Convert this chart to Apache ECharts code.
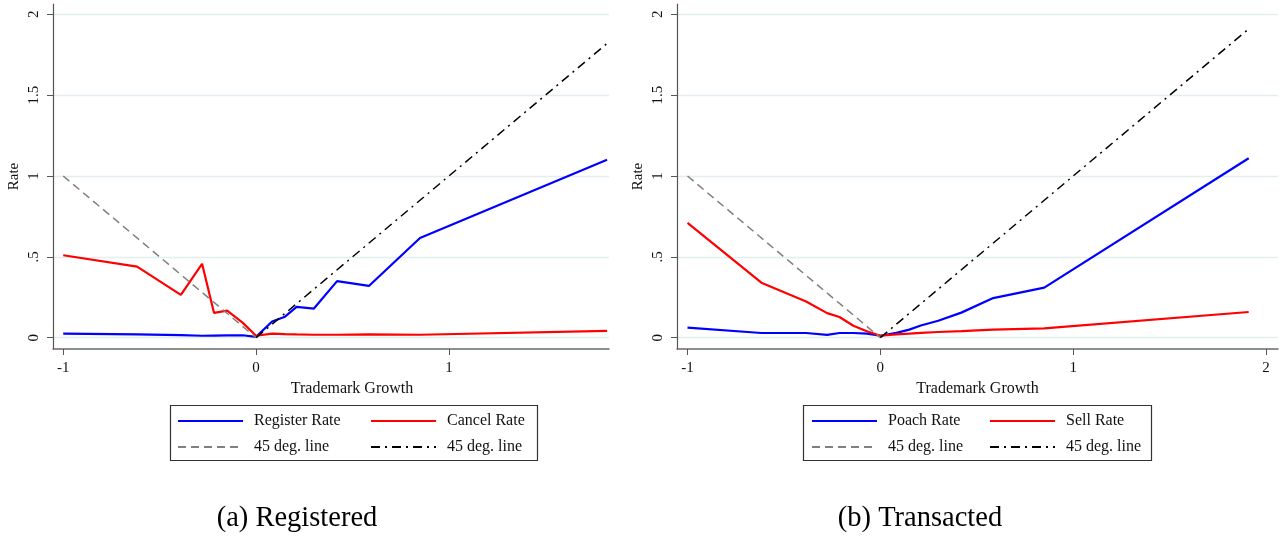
<!DOCTYPE html>
<html>
<head>
<meta charset="utf-8">
<script src="https://cdn.jsdelivr.net/npm/echarts@6/dist/echarts.min.js"></script>
<style>
html,body{margin:0;padding:0;background:#fff;}
#chart{width:1285px;height:536px;}
</style>
</head>
<body>
<div id="chart"></div>
<script>
// ---- Panel (a) Registered ----
const xA = [-1, -0.617, -0.39, -0.28, -0.218, -0.15, -0.07, 0, 0.083, 0.15, 0.21, 0.30, 0.42, 0.585, 0.85, 1.82];
const registerRate = [0.025, 0.02, 0.016, 0.012, 0.013, 0.014, 0.015, 0.005, 0.10, 0.13, 0.19, 0.18, 0.35, 0.32, 0.617, 1.10];
const cancelRate = [0.51, 0.44, 0.265, 0.457, 0.153, 0.167, 0.093, 0.012, 0.025, 0.022, 0.02, 0.018, 0.018, 0.02, 0.018, 0.042];
const diagNegA = [[-1, 1], [0, 0]];
const diagPosA = [[0, 0], [1.82, 1.82]];

// ---- Panel (b) Transacted ----
const xB = [-1, -0.617, -0.385, -0.276, -0.212, -0.14, -0.07, 0, 0.083, 0.15, 0.21, 0.30, 0.42, 0.585, 0.85, 1.91];
const poachRate = [0.062, 0.029, 0.029, 0.017, 0.029, 0.029, 0.025, 0.012, 0.03, 0.05, 0.075, 0.105, 0.155, 0.245, 0.31, 1.11];
const sellRate = [0.71, 0.34, 0.224, 0.152, 0.128, 0.074, 0.04, 0.012, 0.02, 0.025, 0.03, 0.035, 0.04, 0.05, 0.057, 0.159];
const diagNegB = [[-1, 1], [0, 0]];
const diagPosB = [[0, 0], [1.91, 1.91]];

// ---- Tick labels ----
const yTickValues = [0, 0.5, 1, 1.5, 2];
const yTickLabels = ['0', '.5', '1', '1.5', '2'];
const xTickValuesA = [-1, 0, 1];
const xTickValuesB = [-1, 0, 1, 2];
const xTickLabels = {'-1': '-1', '0': '0', '1': '1', '2': '2'};

const legendNames = ['Register Rate', 'Cancel Rate', 'Poach Rate', 'Sell Rate'];
const captions = ['(a) Registered', '(b) Transacted'];

const FONT = 'Liberation Serif';
const pairs = (xs, ys) => xs.map((x, i) => [x, ys[i]]);

function xAxisCfg(idx, min, max, ticks, namePad) {
  return {
    type: 'value', gridIndex: idx, min: min, max: max,
    name: 'Trademark Growth', nameLocation: 'middle', nameGap: 30,
    nameTextStyle: {fontFamily: FONT, fontSize: 16, color: '#111', padding: namePad},
    axisLine: {show: true, onZero: false, lineStyle: {color: '#6a6a6a', width: 1.5}},
    axisTick: {show: true, length: 6, customValues: ticks, lineStyle: {color: '#555'}},
    axisLabel: {customValues: ticks, margin: 12, fontFamily: FONT, fontSize: 15, color: '#111',
      formatter: v => xTickLabels[String(v)]},
    splitLine: {show: false}
  };
}
function yAxisCfg(idx) {
  return {
    type: 'value', gridIndex: idx, min: -0.07, max: 2.064,
    name: 'Rate', nameLocation: 'middle', nameGap: 31,
    nameTextStyle: {fontFamily: FONT, fontSize: 15, color: '#111'},
    axisLine: {show: true, onZero: false, lineStyle: {color: '#555', width: 1.2}},
    axisTick: {show: true, length: 6, customValues: yTickValues, lineStyle: {color: '#555'}},
    axisLabel: {customValues: yTickValues, rotate: 90, margin: 11, fontFamily: FONT, fontSize: 15, color: '#111',
      formatter: v => yTickLabels[yTickValues.indexOf(v)]},
    splitLine: {show: true, lineStyle: {color: '#e4eef0', width: 1.3}}
  };
}
const NOSYM = 'rgba(0,0,0,0)';
function mainLine(name, data, color, idx) {
  return {name: name, type: 'line', xAxisIndex: idx, yAxisIndex: idx, data: data,
    symbol: 'none', lineStyle: {color: color, width: 2.2}, itemStyle: {color: NOSYM, opacity: 0},
    silent: true, animation: false};
}
function diagLine(name, data, color, dash, idx) {
  return {name: name, type: 'line', xAxisIndex: idx, yAxisIndex: idx, data: data,
    symbol: 'none', lineStyle: {color: color, width: 1.5, type: dash}, itemStyle: {color: NOSYM, opacity: 0},
    silent: true, animation: false};
}
const dashG = [8, 5];
const dashDot = [9, 5, 2, 5];

function legendCfg(left, names) {
  return {
    left: left, top: 413, orient: 'vertical', itemWidth: 65, itemHeight: 14, itemGap: 10,
    padding: 0, selectedMode: false,
    itemStyle: {color: NOSYM, opacity: 0, borderWidth: 0},
    data: names,
    formatter: n => n.split('#')[0],
    textStyle: {fontFamily: FONT, fontSize: 16, color: '#111', lineHeight: 16, padding: [0, 0, 0, 6]}
  };
}

const option = {
  backgroundColor: '#fff',
  animation: false,
  title: [
    {text: captions[0], left: 292, top: 499, textAlign: 'center',
      textStyle: {fontFamily: FONT, fontSize: 28.5, fontWeight: 'normal', color: '#000'}},
    {text: captions[1], left: 915, top: 499, textAlign: 'center',
      textStyle: {fontFamily: FONT, fontSize: 28.5, fontWeight: 'normal', color: '#000'}}
  ],
  grid: [
    {left: 53, top: 4, width: 556, height: 345},
    {left: 677, top: 4, width: 601, height: 345}
  ],
  xAxis: [
    xAxisCfg(0, -1.053, 1.83, xTickValuesA, [0, 0, 0, 42]),
    xAxisCfg(1, -1.0545, 2.062, xTickValuesB, 0)
  ],
  yAxis: [yAxisCfg(0), yAxisCfg(1)],
  legend: [
    legendCfg(177, [legendNames[0], '45 deg. line#a1']),
    legendCfg(370, [legendNames[1], '45 deg. line#a2']),
    legendCfg(811, [legendNames[2], '45 deg. line#b1']),
    legendCfg(989, [legendNames[3], '45 deg. line#b2'])
  ],
  graphic: [
    {type: 'rect', shape: {x: 170.5, y: 405.5, width: 367, height: 55}, style: {fill: 'none', stroke: '#333', lineWidth: 1.2}, silent: true},
    {type: 'rect', shape: {x: 803.5, y: 405.5, width: 348, height: 55}, style: {fill: 'none', stroke: '#333', lineWidth: 1.2}, silent: true}
  ],
  series: [
    mainLine(legendNames[0], pairs(xA, registerRate), '#0000ff', 0),
    mainLine(legendNames[1], pairs(xA, cancelRate), '#ff0000', 0),
    diagLine('45 deg. line#a1', diagNegA, '#808080', dashG, 0),
    diagLine('45 deg. line#a2', diagPosA, '#000000', dashDot, 0),
    mainLine(legendNames[2], pairs(xB, poachRate), '#0000ff', 1),
    mainLine(legendNames[3], pairs(xB, sellRate), '#ff0000', 1),
    diagLine('45 deg. line#b1', diagNegB, '#808080', dashG, 1),
    diagLine('45 deg. line#b2', diagPosB, '#000000', dashDot, 1)
  ]
};

const chart = echarts.init(document.getElementById('chart'), null, {renderer: 'canvas'});
chart.setOption(option);
</script>
</body>
</html>
